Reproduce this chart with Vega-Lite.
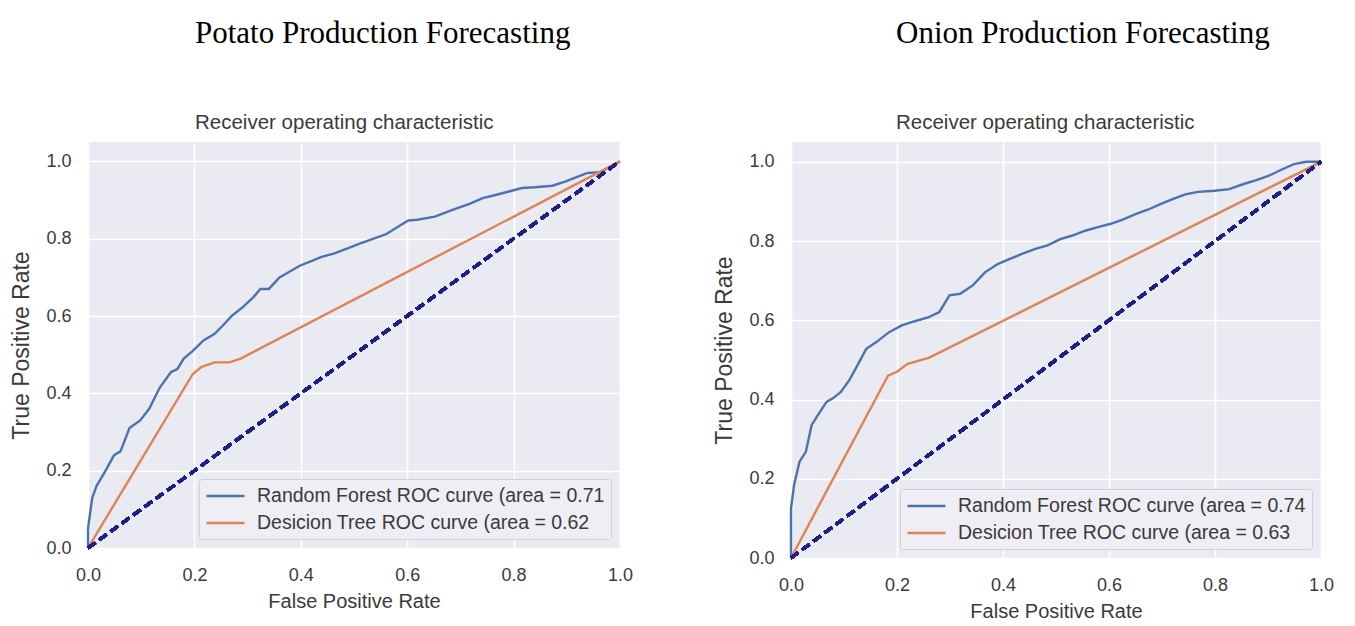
{
  "$schema": "https://vega.github.io/schema/vega-lite/v6.json",
  "background": "white",
  "padding": {"left": 10, "top": 17, "right": 5, "bottom": 2},
  "datasets": {
    "potato": [
      {"fpr": 0, "tpr": 0, "model": "Random Forest ROC curve (area = 0.71"},
      {"fpr": 0, "tpr": 0.05, "model": "Random Forest ROC curve (area = 0.71"},
      {"fpr": 0.008, "tpr": 0.13, "model": "Random Forest ROC curve (area = 0.71"},
      {"fpr": 0.016, "tpr": 0.16, "model": "Random Forest ROC curve (area = 0.71"},
      {"fpr": 0.033, "tpr": 0.2, "model": "Random Forest ROC curve (area = 0.71"},
      {"fpr": 0.049, "tpr": 0.24, "model": "Random Forest ROC curve (area = 0.71"},
      {"fpr": 0.061, "tpr": 0.25, "model": "Random Forest ROC curve (area = 0.71"},
      {"fpr": 0.078, "tpr": 0.31, "model": "Random Forest ROC curve (area = 0.71"},
      {"fpr": 0.098, "tpr": 0.33, "model": "Random Forest ROC curve (area = 0.71"},
      {"fpr": 0.115, "tpr": 0.36, "model": "Random Forest ROC curve (area = 0.71"},
      {"fpr": 0.135, "tpr": 0.415, "model": "Random Forest ROC curve (area = 0.71"},
      {"fpr": 0.156, "tpr": 0.455, "model": "Random Forest ROC curve (area = 0.71"},
      {"fpr": 0.168, "tpr": 0.463, "model": "Random Forest ROC curve (area = 0.71"},
      {"fpr": 0.18, "tpr": 0.49, "model": "Random Forest ROC curve (area = 0.71"},
      {"fpr": 0.197, "tpr": 0.51, "model": "Random Forest ROC curve (area = 0.71"},
      {"fpr": 0.217, "tpr": 0.537, "model": "Random Forest ROC curve (area = 0.71"},
      {"fpr": 0.238, "tpr": 0.554, "model": "Random Forest ROC curve (area = 0.71"},
      {"fpr": 0.254, "tpr": 0.576, "model": "Random Forest ROC curve (area = 0.71"},
      {"fpr": 0.27, "tpr": 0.6, "model": "Random Forest ROC curve (area = 0.71"},
      {"fpr": 0.291, "tpr": 0.623, "model": "Random Forest ROC curve (area = 0.71"},
      {"fpr": 0.311, "tpr": 0.649, "model": "Random Forest ROC curve (area = 0.71"},
      {"fpr": 0.324, "tpr": 0.67, "model": "Random Forest ROC curve (area = 0.71"},
      {"fpr": 0.34, "tpr": 0.67, "model": "Random Forest ROC curve (area = 0.71"},
      {"fpr": 0.36, "tpr": 0.7, "model": "Random Forest ROC curve (area = 0.71"},
      {"fpr": 0.373, "tpr": 0.71, "model": "Random Forest ROC curve (area = 0.71"},
      {"fpr": 0.398, "tpr": 0.73, "model": "Random Forest ROC curve (area = 0.71"},
      {"fpr": 0.422, "tpr": 0.743, "model": "Random Forest ROC curve (area = 0.71"},
      {"fpr": 0.439, "tpr": 0.753, "model": "Random Forest ROC curve (area = 0.71"},
      {"fpr": 0.463, "tpr": 0.762, "model": "Random Forest ROC curve (area = 0.71"},
      {"fpr": 0.488, "tpr": 0.775, "model": "Random Forest ROC curve (area = 0.71"},
      {"fpr": 0.512, "tpr": 0.788, "model": "Random Forest ROC curve (area = 0.71"},
      {"fpr": 0.537, "tpr": 0.8, "model": "Random Forest ROC curve (area = 0.71"},
      {"fpr": 0.561, "tpr": 0.812, "model": "Random Forest ROC curve (area = 0.71"},
      {"fpr": 0.578, "tpr": 0.827, "model": "Random Forest ROC curve (area = 0.71"},
      {"fpr": 0.602, "tpr": 0.847, "model": "Random Forest ROC curve (area = 0.71"},
      {"fpr": 0.619, "tpr": 0.849, "model": "Random Forest ROC curve (area = 0.71"},
      {"fpr": 0.652, "tpr": 0.857, "model": "Random Forest ROC curve (area = 0.71"},
      {"fpr": 0.684, "tpr": 0.874, "model": "Random Forest ROC curve (area = 0.71"},
      {"fpr": 0.717, "tpr": 0.89, "model": "Random Forest ROC curve (area = 0.71"},
      {"fpr": 0.742, "tpr": 0.905, "model": "Random Forest ROC curve (area = 0.71"},
      {"fpr": 0.766, "tpr": 0.913, "model": "Random Forest ROC curve (area = 0.71"},
      {"fpr": 0.791, "tpr": 0.922, "model": "Random Forest ROC curve (area = 0.71"},
      {"fpr": 0.816, "tpr": 0.931, "model": "Random Forest ROC curve (area = 0.71"},
      {"fpr": 0.84, "tpr": 0.933, "model": "Random Forest ROC curve (area = 0.71"},
      {"fpr": 0.873, "tpr": 0.937, "model": "Random Forest ROC curve (area = 0.71"},
      {"fpr": 0.898, "tpr": 0.948, "model": "Random Forest ROC curve (area = 0.71"},
      {"fpr": 0.922, "tpr": 0.961, "model": "Random Forest ROC curve (area = 0.71"},
      {"fpr": 0.939, "tpr": 0.97, "model": "Random Forest ROC curve (area = 0.71"},
      {"fpr": 0.963, "tpr": 0.972, "model": "Random Forest ROC curve (area = 0.71"},
      {"fpr": 1, "tpr": 1, "model": "Random Forest ROC curve (area = 0.71"},
      {"fpr": 0, "tpr": 0, "model": "Desicion Tree ROC curve (area = 0.62"},
      {"fpr": 0.197, "tpr": 0.45, "model": "Desicion Tree ROC curve (area = 0.62"},
      {"fpr": 0.213, "tpr": 0.468, "model": "Desicion Tree ROC curve (area = 0.62"},
      {"fpr": 0.238, "tpr": 0.48, "model": "Desicion Tree ROC curve (area = 0.62"},
      {"fpr": 0.266, "tpr": 0.48, "model": "Desicion Tree ROC curve (area = 0.62"},
      {"fpr": 0.287, "tpr": 0.49, "model": "Desicion Tree ROC curve (area = 0.62"},
      {"fpr": 1, "tpr": 1, "model": "Desicion Tree ROC curve (area = 0.62"}
    ],
    "onion": [
      {"fpr": 0, "tpr": 0, "model": "Random Forest ROC curve (area = 0.74"},
      {"fpr": 0, "tpr": 0.126, "model": "Random Forest ROC curve (area = 0.74"},
      {"fpr": 0.006, "tpr": 0.185, "model": "Random Forest ROC curve (area = 0.74"},
      {"fpr": 0.016, "tpr": 0.243, "model": "Random Forest ROC curve (area = 0.74"},
      {"fpr": 0.028, "tpr": 0.268, "model": "Random Forest ROC curve (area = 0.74"},
      {"fpr": 0.039, "tpr": 0.336, "model": "Random Forest ROC curve (area = 0.74"},
      {"fpr": 0.051, "tpr": 0.361, "model": "Random Forest ROC curve (area = 0.74"},
      {"fpr": 0.067, "tpr": 0.394, "model": "Random Forest ROC curve (area = 0.74"},
      {"fpr": 0.079, "tpr": 0.403, "model": "Random Forest ROC curve (area = 0.74"},
      {"fpr": 0.094, "tpr": 0.419, "model": "Random Forest ROC curve (area = 0.74"},
      {"fpr": 0.11, "tpr": 0.449, "model": "Random Forest ROC curve (area = 0.74"},
      {"fpr": 0.122, "tpr": 0.478, "model": "Random Forest ROC curve (area = 0.74"},
      {"fpr": 0.142, "tpr": 0.528, "model": "Random Forest ROC curve (area = 0.74"},
      {"fpr": 0.161, "tpr": 0.545, "model": "Random Forest ROC curve (area = 0.74"},
      {"fpr": 0.185, "tpr": 0.57, "model": "Random Forest ROC curve (area = 0.74"},
      {"fpr": 0.209, "tpr": 0.587, "model": "Random Forest ROC curve (area = 0.74"},
      {"fpr": 0.232, "tpr": 0.597, "model": "Random Forest ROC curve (area = 0.74"},
      {"fpr": 0.26, "tpr": 0.608, "model": "Random Forest ROC curve (area = 0.74"},
      {"fpr": 0.28, "tpr": 0.621, "model": "Random Forest ROC curve (area = 0.74"},
      {"fpr": 0.299, "tpr": 0.663, "model": "Random Forest ROC curve (area = 0.74"},
      {"fpr": 0.319, "tpr": 0.667, "model": "Random Forest ROC curve (area = 0.74"},
      {"fpr": 0.343, "tpr": 0.688, "model": "Random Forest ROC curve (area = 0.74"},
      {"fpr": 0.366, "tpr": 0.721, "model": "Random Forest ROC curve (area = 0.74"},
      {"fpr": 0.39, "tpr": 0.742, "model": "Random Forest ROC curve (area = 0.74"},
      {"fpr": 0.413, "tpr": 0.755, "model": "Random Forest ROC curve (area = 0.74"},
      {"fpr": 0.437, "tpr": 0.768, "model": "Random Forest ROC curve (area = 0.74"},
      {"fpr": 0.461, "tpr": 0.78, "model": "Random Forest ROC curve (area = 0.74"},
      {"fpr": 0.484, "tpr": 0.789, "model": "Random Forest ROC curve (area = 0.74"},
      {"fpr": 0.508, "tpr": 0.805, "model": "Random Forest ROC curve (area = 0.74"},
      {"fpr": 0.531, "tpr": 0.814, "model": "Random Forest ROC curve (area = 0.74"},
      {"fpr": 0.555, "tpr": 0.826, "model": "Random Forest ROC curve (area = 0.74"},
      {"fpr": 0.579, "tpr": 0.835, "model": "Random Forest ROC curve (area = 0.74"},
      {"fpr": 0.602, "tpr": 0.843, "model": "Random Forest ROC curve (area = 0.74"},
      {"fpr": 0.626, "tpr": 0.854, "model": "Random Forest ROC curve (area = 0.74"},
      {"fpr": 0.65, "tpr": 0.868, "model": "Random Forest ROC curve (area = 0.74"},
      {"fpr": 0.673, "tpr": 0.879, "model": "Random Forest ROC curve (area = 0.74"},
      {"fpr": 0.697, "tpr": 0.893, "model": "Random Forest ROC curve (area = 0.74"},
      {"fpr": 0.72, "tpr": 0.906, "model": "Random Forest ROC curve (area = 0.74"},
      {"fpr": 0.744, "tpr": 0.918, "model": "Random Forest ROC curve (area = 0.74"},
      {"fpr": 0.768, "tpr": 0.924, "model": "Random Forest ROC curve (area = 0.74"},
      {"fpr": 0.799, "tpr": 0.927, "model": "Random Forest ROC curve (area = 0.74"},
      {"fpr": 0.827, "tpr": 0.931, "model": "Random Forest ROC curve (area = 0.74"},
      {"fpr": 0.854, "tpr": 0.944, "model": "Random Forest ROC curve (area = 0.74"},
      {"fpr": 0.878, "tpr": 0.954, "model": "Random Forest ROC curve (area = 0.74"},
      {"fpr": 0.902, "tpr": 0.965, "model": "Random Forest ROC curve (area = 0.74"},
      {"fpr": 0.925, "tpr": 0.98, "model": "Random Forest ROC curve (area = 0.74"},
      {"fpr": 0.949, "tpr": 0.994, "model": "Random Forest ROC curve (area = 0.74"},
      {"fpr": 0.972, "tpr": 1, "model": "Random Forest ROC curve (area = 0.74"},
      {"fpr": 1, "tpr": 1, "model": "Random Forest ROC curve (area = 0.74"},
      {"fpr": 0, "tpr": 0, "model": "Desicion Tree ROC curve (area = 0.63"},
      {"fpr": 0.183, "tpr": 0.46, "model": "Desicion Tree ROC curve (area = 0.63"},
      {"fpr": 0.2, "tpr": 0.47, "model": "Desicion Tree ROC curve (area = 0.63"},
      {"fpr": 0.22, "tpr": 0.49, "model": "Desicion Tree ROC curve (area = 0.63"},
      {"fpr": 0.26, "tpr": 0.505, "model": "Desicion Tree ROC curve (area = 0.63"},
      {"fpr": 1, "tpr": 1, "model": "Desicion Tree ROC curve (area = 0.63"}
    ]
  },
  "hconcat": [
    {
      "title": {"text": "Potato Production Forecasting", "subtitle": "Receiver operating characteristic", "dx": 107},
      "width": 532,
      "height": 406,
      "data": {"name": "potato"},
      "layer": [
        {
          "mark": {"type": "line", "strokeWidth": 2.4},
          "encoding": {
            "x": {"field": "fpr", "type": "quantitative", "title": "False Positive Rate", "scale": {"domain": [0, 1], "nice": false, "zero": false}, "axis": {"values": [0, 0.2, 0.4, 0.6, 0.8, 1.0], "format": ".1f"}},
            "y": {"field": "tpr", "type": "quantitative", "title": "True Positive Rate", "scale": {"domain": [0, 1.05], "nice": false}, "axis": {"values": [0, 0.2, 0.4, 0.6, 0.8, 1.0], "format": ".1f"}},
            "color": {"field": "model", "type": "nominal", "sort": null, "scale": {"domain": ["Random Forest ROC curve (area = 0.71", "Desicion Tree ROC curve (area = 0.62"], "range": ["#4C72B0", "#DD8452"]}, "legend": {"title": null, "orient": "bottom-right", "offset": 9}},
            "order": {"field": "fpr", "type": "quantitative"}
          }
        },
        {
          "mark": {"type": "rule", "color": "#1f1f85", "strokeWidth": 3, "strokeDash": [9, 5]},
          "encoding": {"x": {"datum": 0}, "y": {"datum": 0}, "x2": {"datum": 1}, "y2": {"datum": 1}}
        }
      ]
    },
    {
      "title": {"text": "Onion Production Forecasting", "subtitle": "Receiver operating characteristic", "dx": 105},
      "width": 530,
      "height": 416,
      "data": {"name": "onion"},
      "layer": [
        {
          "mark": {"type": "line", "strokeWidth": 2.4},
          "encoding": {
            "x": {"field": "fpr", "type": "quantitative", "title": "False Positive Rate", "scale": {"domain": [0, 1], "nice": false, "zero": false}, "axis": {"values": [0, 0.2, 0.4, 0.6, 0.8, 1.0], "format": ".1f"}},
            "y": {"field": "tpr", "type": "quantitative", "title": "True Positive Rate", "scale": {"domain": [0, 1.05], "nice": false}, "axis": {"values": [0, 0.2, 0.4, 0.6, 0.8, 1.0], "format": ".1f"}},
            "color": {"field": "model", "type": "nominal", "sort": null, "scale": {"domain": ["Random Forest ROC curve (area = 0.74", "Desicion Tree ROC curve (area = 0.63"], "range": ["#4C72B0", "#DD8452"]}, "legend": {"title": null, "orient": "bottom-right", "offset": 9}},
            "order": {"field": "fpr", "type": "quantitative"}
          }
        },
        {
          "mark": {"type": "rule", "color": "#1f1f85", "strokeWidth": 3, "strokeDash": [9, 5]},
          "encoding": {"x": {"datum": 0}, "y": {"datum": 0}, "x2": {"datum": 1}, "y2": {"datum": 1}}
        }
      ]
    }
  ],
  "spacing": 80,
  "resolve": {"scale": {"color": "independent", "x": "independent", "y": "independent"}, "legend": {"color": "independent"}},
  "config": {
    "font": "Liberation Sans",
    "view": {"fill": "#EAEAF2", "stroke": null},
    "title": {
      "font": "Liberation Serif", "fontSize": 31, "fontWeight": "normal", "color": "#000000",
      "anchor": "start", "frame": "group", "offset": 8,
      "subtitleFont": "Liberation Sans", "subtitleFontSize": 20.5, "subtitleColor": "#3a3a3a", "subtitlePadding": 63
    },
    "axis": {
      "grid": true, "gridColor": "#FFFFFF", "gridWidth": 1.6, "domain": false, "ticks": false,
      "labelFont": "Liberation Sans", "labelFontSize": 18, "labelColor": "#3a3a3a",
      "labelFlush": false, "labelOverlap": false,
      "titleFont": "Liberation Sans", "titleFontSize": 20, "titleFontWeight": "normal", "titleColor": "#3a3a3a"
    },
    "axisX": {"labelPadding": 18, "titlePadding": 7},
    "axisY": {"labelPadding": 17, "titlePadding": 12, "titleFontSize": 23},
    "legend": {
      "fillColor": "#EEEEF4", "strokeColor": "#CFCFD6", "cornerRadius": 3, "padding": 6,
      "symbolType": "M-1,0H3", "symbolSize": 361, "symbolStrokeWidth": 2.4,
      "labelFont": "Liberation Sans", "labelFontSize": 19.5, "labelColor": "#3a3a3a", "labelOffset": 30, "labelLimit": 600,
      "rowPadding": 6
    }
  }
}
